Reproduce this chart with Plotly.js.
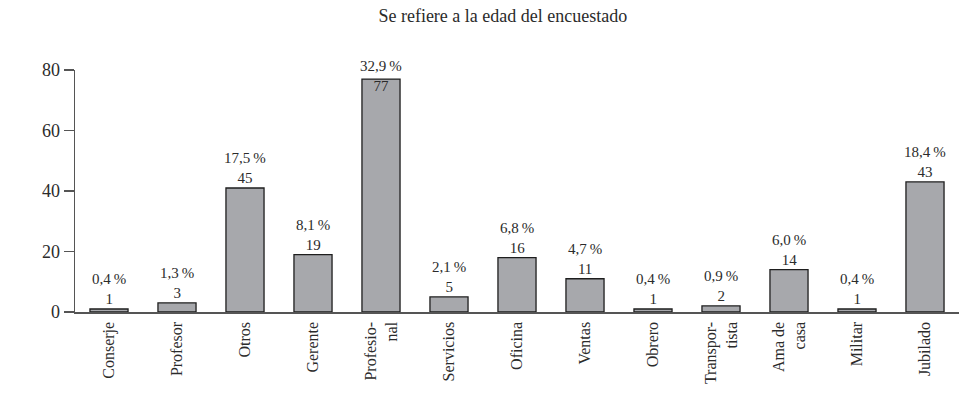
<!DOCTYPE html>
<html>
<head>
<meta charset="utf-8">
<script src="https://cdn.plot.ly/plotly-3.0.1.min.js"></script>
<style>html,body{margin:0;padding:0;background:#fff}#chart{width:961px;height:416px}</style>
</head>
<body>
<div id="chart"></div>
<script>
const categories = ["Conserje","Profesor","Otros","Gerente","Profesio-<br>nal","Servicios","Oficina","Ventas","Obrero","Transpor-<br>tista","Ama de<br>casa","Militar","Jubilado"];
const barHeights = [1,3,41,19,77,5,18,11,1,2,14,1,43];
const countLabels = ["1","3","45","19","77","5","16","11","1","2","14","1","43"];
const percentLabels = ["0,4\u2009%","1,3\u2009%","17,5\u2009%","8,1\u2009%","32,9\u2009%","2,1\u2009%","6,8\u2009%","4,7\u2009%","0,4\u2009%","0,9\u2009%","6,0\u2009%","0,4\u2009%","18,4\u2009%"];
const yTicks = [0,20,40,60,80];

const font = "'Liberation Serif', 'DejaVu Serif', serif";
const txt = "#2b2b2b";

const trace = {
  type: "bar",
  x: categories,
  y: barHeights,
  marker: {color: "#a7a8ac", line: {color: "#1e1e1e", width: 1.3}},
  hoverinfo: "skip"
};

const annotations = categories.map((c, i) => ({
  x: c, y: barHeights[i], xref: "x", yref: "y",
  text: percentLabels[i] + "<br>" + countLabels[i],
  showarrow: false, yanchor: "bottom",
  yshift: barHeights[i] > 70 ? -17 : 0,
  font: {family: font, size: 15, color: txt}
}));

const layout = {
  width: 961, height: 416,
  margin: {l: 75, r: 2, t: 70, b: 104},
  paper_bgcolor: "#fff", plot_bgcolor: "#fff",
  font: {family: font, color: txt},
  title: {text: "Se refiere a la edad del encuestado", x: 0.484, xref: "paper", xanchor: "center", y: 0.962, yanchor: "middle",
          font: {family: font, size: 18, color: txt}},
  bargap: 0.44,
  showlegend: false,
  xaxis: {
    type: "category", range: [-0.5, 12.5], tickangle: -90,
    showline: true, linecolor: "#555", linewidth: 1.5, ticks: "", showgrid: false, zeroline: false,
    tickfont: {family: font, size: 16, color: txt}, ticklabelstandoff: 2
  },
  yaxis: {
    range: [0, 80], tickvals: yTicks, ticktext: yTicks.map(String),
    showline: true, linecolor: "#555", linewidth: 1.5, ticks: "outside", ticklen: 10, tickcolor: "#555", tickwidth: 1.5,
    showgrid: false, zeroline: false,
    tickfont: {family: font, size: 18, color: txt}
  },
  annotations: annotations
};

Plotly.newPlot("chart", [trace], layout, {displayModeBar: false, staticPlot: true});
</script>
</body>
</html>
